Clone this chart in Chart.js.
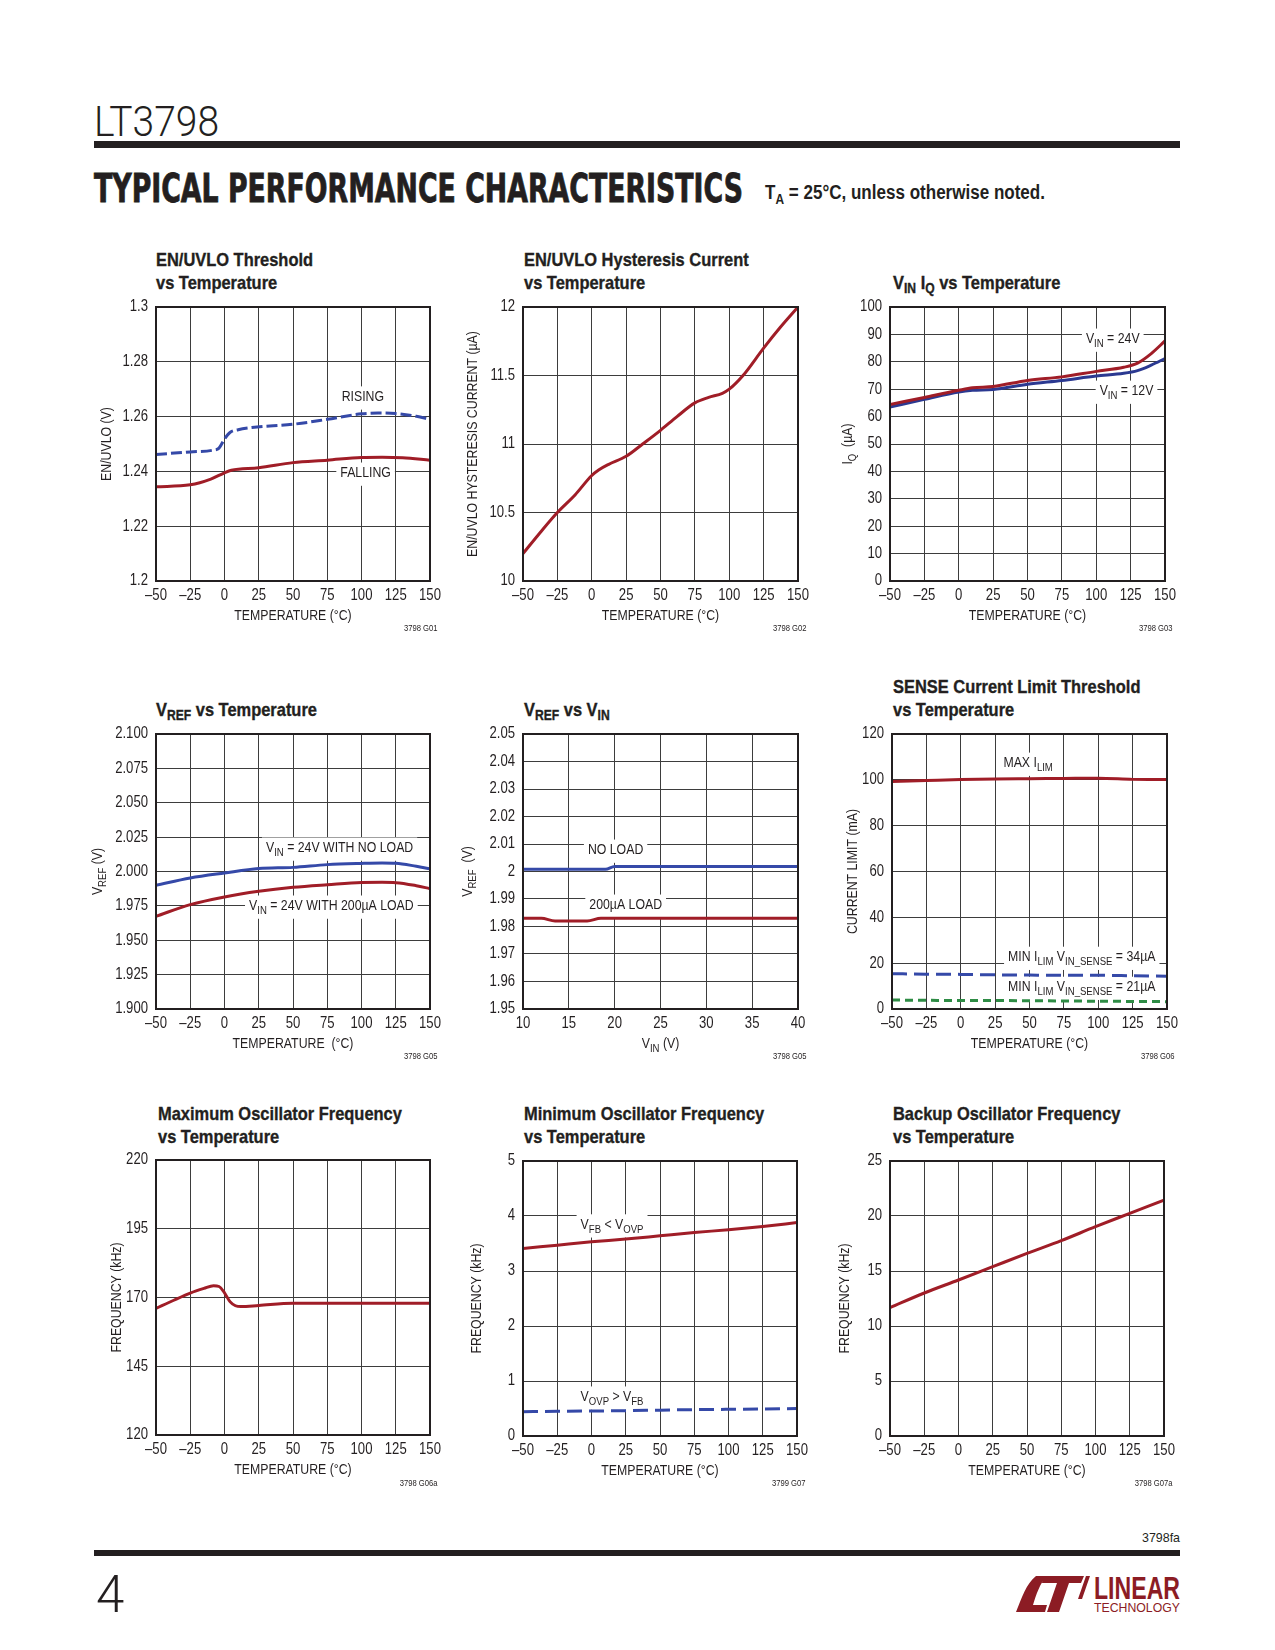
<!DOCTYPE html>
<html>
<head>
<meta charset="utf-8">
<script src="https://cdn.jsdelivr.net/npm/chart.js@4.4.1/dist/chart.umd.min.js"></script>
<style>
  body { margin: 0; background: #fff; }
  #page { position: relative; width: 1275px; height: 1650px; overflow: hidden;
          font-family: 'Liberation Sans', Arial, sans-serif; color: #231f20; }
  canvas { position: absolute; }
  .ttl { position: absolute; font-weight: bold; font-size: 19px; line-height: 23px; white-space: nowrap;
         transform: scaleX(0.865); transform-origin: 0 0; -webkit-text-stroke: 0.35px #231f20; }
  .ttl sub { font-size: 14px; vertical-align: -4px; line-height: 0; }
  .fn { position: absolute; font-size: 9px; line-height: 10px; white-space: nowrap;
        transform: scaleX(0.85); transform-origin: 100% 0; }
  svg { position: absolute; left: 0; }
</style>
</head>
<body>
<div id="page">
  <svg width="1275" height="220" style="top:0">
    <text x="94" y="136" font-family="Roboto, 'Liberation Sans', sans-serif" font-weight="300" font-size="42" fill="#231f20" textLength="125" lengthAdjust="spacingAndGlyphs">LT3798</text>
    <rect x="94" y="141" width="1086" height="7" fill="#231f20"/>
    <text x="94" y="202" font-family="'DejaVu Sans Condensed', 'Liberation Sans', sans-serif" font-weight="bold" font-size="39" fill="#231f20" stroke="#231f20" stroke-width="0.8" textLength="649" lengthAdjust="spacingAndGlyphs">TYPICAL PERFORMANCE CHARACTERISTICS</text>
    <text x="765" y="199" font-family="'Liberation Sans', sans-serif" font-weight="bold" font-size="20" fill="#231f20" textLength="280" lengthAdjust="spacingAndGlyphs">T<tspan font-size="14" dy="5">A</tspan><tspan dy="-5"> = 25°C, unless otherwise noted.</tspan></text>
  </svg>

  <div class="ttl" style="left:156px;top:248px">EN/UVLO Threshold<br>vs Temperature</div>
  <div class="ttl" style="left:524px;top:248px">EN/UVLO Hysteresis Current<br>vs Temperature</div>
  <div class="ttl" style="left:893px;top:271px">V<sub>IN</sub> I<sub>Q</sub> vs Temperature</div>
  <div class="ttl" style="left:156px;top:698px">V<sub>REF</sub> vs Temperature</div>
  <div class="ttl" style="left:524px;top:698px">V<sub>REF</sub> vs V<sub>IN</sub></div>
  <div class="ttl" style="left:893px;top:675px">SENSE Current Limit Threshold<br>vs Temperature</div>
  <div class="ttl" style="left:158px;top:1102px">Maximum Oscillator Frequency<br>vs Temperature</div>
  <div class="ttl" style="left:524px;top:1102px">Minimum Oscillator Frequency<br>vs Temperature</div>
  <div class="ttl" style="left:893px;top:1102px">Backup Oscillator Frequency<br>vs Temperature</div>

  <canvas id="g01"></canvas>
  <canvas id="g02"></canvas>
  <canvas id="g03"></canvas>
  <canvas id="g04"></canvas>
  <canvas id="g05"></canvas>
  <canvas id="g06"></canvas>
  <canvas id="g07"></canvas>
  <canvas id="g08"></canvas>
  <canvas id="g09"></canvas>

  <div class="fn" style="right:837px;top:623px">3798 G01</div>
  <div class="fn" style="right:468px;top:623px">3798 G02</div>
  <div class="fn" style="right:102px;top:623px">3798 G03</div>
  <div class="fn" style="right:837px;top:1051px">3798 G05</div>
  <div class="fn" style="right:468px;top:1051px">3798 G05</div>
  <div class="fn" style="right:100px;top:1051px">3798 G06</div>
  <div class="fn" style="right:837px;top:1478px">3798 G06a</div>
  <div class="fn" style="right:469px;top:1478px">3799 G07</div>
  <div class="fn" style="right:102px;top:1478px">3798 G07a</div>

  <svg width="1275" height="100" style="top:1525px">
    <text x="1180" y="17" text-anchor="end" font-family="'Liberation Sans', sans-serif" font-size="13" fill="#231f20" textLength="38" lengthAdjust="spacingAndGlyphs">3798fa</text>
    <rect x="94" y="25" width="1086" height="6" fill="#231f20"/>
    <text x="96" y="87" font-family="Roboto, sans-serif" font-weight="300" font-size="51" fill="#231f20">4</text>
    <g transform="translate(1016,50)" fill="#8c1c24">
      <path d="M0,37 C6,22 10,9 20,1 L31,1 C24,8 20,20 17,30 L31,30 L29,37 Z"/>
      <path d="M27,1 L68,1 L65,8 L53,8 L43,37 L31,37 L41,8 L26,8 Z"/>
      <path d="M70,1 L74,1 L66,24 L62,24 Z"/>
      <text x="78" y="24" font-family="'Liberation Sans', sans-serif" font-weight="bold" font-size="31" textLength="86" lengthAdjust="spacingAndGlyphs">LINEAR</text>
      <text x="78" y="37" font-family="'Liberation Sans', sans-serif" font-size="12" textLength="86" lengthAdjust="spacingAndGlyphs">TECHNOLOGY</text>
    </g>
  </svg>
</div>

<script>
// fonts and colours
const FONT = "'Liberation Sans', Arial, sans-serif";
const SQ = 0.82;   // squeeze to look like a condensed face
const INK = '#231f20';
const RED = '#a01d27';
const BLUE = '#3549a8';
const NAVY = '#2b3991';
const GREEN = '#2e8c45';

// shared tick labels
const tempTicks = [-50, -25, 0, 25, 50, 75, 100, 125, 150];
const tempTickLabels = ['–50', '–25', '0', '25', '50', '75', '100', '125', '150'];

// G01 EN/UVLO threshold
const g01Ticks = [1.2, 1.22, 1.24, 1.26, 1.28, 1.3];
const g01Labels = ['1.2', '1.22', '1.24', '1.26', '1.28', '1.3'];
const g01RisingT = [-50, -25, -8, -4, 0, 4, 10, 20, 50, 75, 100, 112, 125, 140, 150];
const g01Rising = [1.2462, 1.2471, 1.2478, 1.2485, 1.2518, 1.2542, 1.2552, 1.2560, 1.2572, 1.2590, 1.2610, 1.2613, 1.2611, 1.2601, 1.2590];
const g01FallingT = [-50, -25, -10, 0, 5, 25, 50, 75, 100, 115, 130, 150];
const g01Falling = [1.2344, 1.2351, 1.2372, 1.2395, 1.2404, 1.2413, 1.2432, 1.2441, 1.2451, 1.2452, 1.2450, 1.2441];

// G02 EN/UVLO hysteresis current
const g02Ticks = [10, 10.5, 11, 11.5, 12];
const g02Labels = ['10', '10.5', '11', '11.5', '12'];
const g02T = [-50, -37, -25, -12, 0, 5, 12, 25, 37, 50, 62, 75, 85, 95, 100, 110, 125, 137, 150];
const g02Current = [10.2, 10.36, 10.5, 10.63, 10.77, 10.81, 10.85, 10.91, 11.0, 11.1, 11.2, 11.3, 11.34, 11.37, 11.4, 11.5, 11.7, 11.85, 12.0];

// G03 VIN IQ
const g03Ticks = [0, 10, 20, 30, 40, 50, 60, 70, 80, 90, 100];
const g03Labels = ['0', '10', '20', '30', '40', '50', '60', '70', '80', '90', '100'];
const g03T = [-50, -25, 0, 10, 25, 50, 75, 100, 120, 130, 140, 150];
const g03Iq24 = [64.4, 67.0, 69.6, 70.5, 71.0, 73.2, 74.5, 76.5, 78.0, 79.5, 83.0, 87.6];
const g03Iq12 = [63.5, 66.3, 69.0, 69.6, 69.9, 71.8, 73.2, 74.8, 75.8, 76.8, 78.8, 81.2];

// G05 VREF vs temperature
const g04Ticks = [1.9, 1.925, 1.95, 1.975, 2.0, 2.025, 2.05, 2.075, 2.1];
const g04Labels = ['1.900', '1.925', '1.950', '1.975', '2.000', '2.025', '2.050', '2.075', '2.100'];
const g04T = [-50, -25, 0, 25, 50, 75, 100, 115, 125, 140, 150];
const g04NoLoad = [1.9900, 1.9953, 1.9989, 2.0021, 2.0030, 2.0050, 2.0059, 2.0062, 2.0060, 2.0038, 2.0020];
const g04Load = [1.9674, 1.9759, 1.9815, 1.9856, 1.9885, 1.9904, 1.9920, 1.9921, 1.9919, 1.9897, 1.9875];

// G05 VREF vs VIN
const vinTicks = [10, 15, 20, 25, 30, 35, 40];
const vinTickLabels = ['10', '15', '20', '25', '30', '35', '40'];
const g05Ticks = [1.95, 1.96, 1.97, 1.98, 1.99, 2.0, 2.01, 2.02, 2.03, 2.04, 2.05];
const g05Labels = ['1.95', '1.96', '1.97', '1.98', '1.99', '2', '2.01', '2.02', '2.03', '2.04', '2.05'];
const g05VinNoLoad = [10, 19, 20, 40];
const g05NoLoad = [2.0008, 2.0008, 2.0018, 2.0018];
const g05VinLoad = [10, 12, 13.5, 17, 18.5, 40];
const g05Load = [1.983, 1.983, 1.982, 1.982, 1.983, 1.983];

// G06 SENSE current limit
const g06Ticks = [0, 20, 40, 60, 80, 100, 120];
const g06Labels = ['0', '20', '40', '60', '80', '100', '120'];
const g06T = [-50, -25, 0, 25, 50, 75, 100, 125, 150];
const g06Max = [99.3, 99.7, 100.1, 100.4, 100.5, 100.6, 100.7, 100.2, 100.1];
const g06Min34 = [15.4, 15.2, 15.1, 14.9, 14.8, 14.7, 14.7, 14.5, 14.3];
const g06Min21 = [3.9, 3.8, 3.7, 3.7, 3.6, 3.5, 3.4, 3.3, 3.2];

// G06a max oscillator frequency
const g07Ticks = [120, 145, 170, 195, 220];
const g07Labels = ['120', '145', '170', '195', '220'];
const g07T = [-50, -37, -25, -15, -8, -4, 0, 4, 8, 12, 25, 50, 75, 100, 125, 150];
const g07Freq = [166.0, 169.0, 171.6, 173.3, 174.3, 174.0, 171.7, 168.5, 167.0, 166.7, 167.1, 167.9, 167.9, 167.9, 167.9, 167.9];

// G07 min oscillator frequency
const g08Ticks = [0, 1, 2, 3, 4, 5];
const g08Labels = ['0', '1', '2', '3', '4', '5'];
const g08T = [-50, -25, 0, 25, 50, 75, 100, 125, 150];
const g08FbLow = [3.41, 3.47, 3.53, 3.58, 3.64, 3.70, 3.75, 3.81, 3.88];
const g08OvpLow = [0.44, 0.45, 0.455, 0.46, 0.47, 0.48, 0.485, 0.49, 0.50];

// G07a backup oscillator frequency
const g09Ticks = [0, 5, 10, 15, 20, 25];
const g09Labels = ['0', '5', '10', '15', '20', '25'];
const g09T = [-50, -25, 0, 25, 50, 75, 100, 125, 150];
const g09Freq = [11.67, 13.0, 14.18, 15.39, 16.6, 17.76, 19.03, 20.24, 21.45];

function pts(xs, ys) {
  return xs.map((x, i) => ({ x: x, y: ys[i] }));
}

// text with _{sub} parts
function parseRich(s) {
  const segs = [];
  const re = /_\{([^}]*)\}/g;
  let last = 0, m;
  while ((m = re.exec(s))) {
    if (m.index > last) segs.push({ t: s.slice(last, m.index), sub: false });
    segs.push({ t: m[1], sub: true });
    last = re.lastIndex;
  }
  if (last < s.length) segs.push({ t: s.slice(last), sub: false });
  return segs;
}

// draws squeezed text; align is 'center' | 'right' | 'left'
function drawRich(ctx, s, x, y, size, align, bg) {
  const segs = parseRich(String(s));
  let w = 0;
  segs.forEach(g => {
    ctx.font = (g.sub ? size * 0.78 : size) + 'px ' + FONT;
    g.w = ctx.measureText(g.t).width;
    w += g.w;
  });
  const sw = w * SQ;
  const sx = align === 'center' ? x - sw / 2 : align === 'right' ? x - sw : x;
  if (bg) {
    ctx.fillStyle = '#fff';
    ctx.fillRect(sx - 4, y - size * 0.7, sw + 8, size * 1.55);
  }
  ctx.save();
  ctx.translate(sx, y);
  ctx.scale(SQ, 1);
  ctx.fillStyle = INK;
  ctx.textBaseline = 'middle';
  ctx.textAlign = 'left';
  let cx = 0;
  segs.forEach(g => {
    ctx.font = (g.sub ? size * 0.78 : size) + 'px ' + FONT;
    ctx.fillText(g.t, cx, g.sub ? size * 0.3 : 0);
    cx += g.w;
  });
  ctx.restore();
}

// labels, frame, tick labels and axis titles
const tpc = {
  id: 'tpc',
  beforeDatasetsDraw(chart, args, o) {
    const ctx = chart.ctx, xs = chart.scales.x, ys = chart.scales.y;
    ctx.save();
    (o.notes || []).forEach(n => drawRich(ctx, n.text, xs.getPixelForValue(n.x), ys.getPixelForValue(n.y), 15, 'center', true));
    ctx.restore();
  },
  afterDraw(chart, args, o) {
    const ctx = chart.ctx, a = chart.chartArea, xs = chart.scales.x, ys = chart.scales.y;
    ctx.save();
    ctx.strokeStyle = INK;
    ctx.lineWidth = 2;
    ctx.strokeRect(a.left, a.top, a.right - a.left, a.bottom - a.top);
    xs.ticks.forEach(t => drawRich(ctx, t.label, xs.getPixelForValue(t.value), a.bottom + 15, 16, 'center', false));
    ys.ticks.forEach(t => drawRich(ctx, t.label, a.left - 8, ys.getPixelForValue(t.value), 16, 'right', false));
    drawRich(ctx, o.xTitle, (a.left + a.right) / 2, a.bottom + 35, 15, 'center', false);
    ctx.translate(a.left - o.yOff, (a.top + a.bottom) / 2);
    ctx.rotate(-Math.PI / 2);
    drawRich(ctx, o.yTitle, 0, 0, 15, 'center', false);
    ctx.restore();
  }
};

function axis(ticks, labels, size, horiz) {
  return {
    type: 'linear',
    min: ticks[0],
    max: ticks[ticks.length - 1],
    afterBuildTicks: s => { s.ticks = ticks.map(v => ({ value: v })); },
    afterFit: s => { if (horiz) s.height = size; else s.width = size; },
    ticks: {
      callback: (v, i) => labels[i],
      color: 'rgba(0,0,0,0)',   // drawn squeezed by the tpc plugin
      maxRotation: 0,
      autoSkip: false
    },
    grid: { color: '#3d3d3d', lineWidth: 1, drawTicks: false },
    border: { display: false }
  };
}

function plot(id, box, xAxis, yAxis, sets, deco) {
  const padL = 80, padT = 20, padR = 30, padB = 70;
  const cv = document.getElementById(id);
  cv.width = box[2] + padL + padR;
  cv.height = box[3] + padT + padB;
  cv.style.left = (box[0] - padL) + 'px';
  cv.style.top = (box[1] - padT) + 'px';
  new Chart(cv, {
    type: 'line',
    data: {
      datasets: sets.map(s => ({
        data: s.data,
        borderColor: s.color,
        borderWidth: 3,
        borderDash: s.dash || [],
        pointRadius: 0,
        cubicInterpolationMode: 'monotone',
        fill: false
      }))
    },
    options: {
      responsive: false,
      animation: false,
      events: [],
      layout: { padding: { top: padT, right: padR, left: 0, bottom: 0 } },
      plugins: { legend: { display: false }, tooltip: { enabled: false }, tpc: deco },
      scales: {
        x: axis(xAxis[0], xAxis[1], padB, true),
        y: axis(yAxis[0], yAxis[1], padL, false)
      }
    },
    plugins: [tpc]
  });
}

const TEMP = 'TEMPERATURE (°C)';

plot('g01', [156, 307, 274, 274], [tempTicks, tempTickLabels], [g01Ticks, g01Labels], [
  { data: pts(g01RisingT, g01Rising), color: BLUE, dash: [11, 4] },
  { data: pts(g01FallingT, g01Falling), color: RED }
], { xTitle: TEMP, yTitle: 'EN/UVLO (V)', yOff: 49, notes: [
  { text: 'RISING', x: 101, y: 1.2672 },
  { text: 'FALLING', x: 103, y: 1.2394 }
] });

plot('g02', [523, 307, 275, 274], [tempTicks, tempTickLabels], [g02Ticks, g02Labels], [
  { data: pts(g02T, g02Current), color: RED }
], { xTitle: TEMP, yTitle: 'EN/UVLO HYSTERESIS CURRENT (µA)', yOff: 50, notes: [] });

plot('g03', [890, 307, 275, 274], [tempTicks, tempTickLabels], [g03Ticks, g03Labels], [
  { data: pts(g03T, g03Iq24), color: RED },
  { data: pts(g03T, g03Iq12), color: NAVY }
], { xTitle: TEMP, yTitle: 'I_{Q}  (µA)', yOff: 42, notes: [
  { text: 'V_{IN} = 24V', x: 112, y: 88.3 },
  { text: 'V_{IN} = 12V', x: 122, y: 69.3 }
] });

plot('g04', [156, 734, 274, 275], [tempTicks, tempTickLabels], [g04Ticks, g04Labels], [
  { data: pts(g04T, g04NoLoad), color: BLUE },
  { data: pts(g04T, g04Load), color: RED }
], { xTitle: 'TEMPERATURE  (°C)', yTitle: 'V_{REF} (V)', yOff: 58, notes: [
  { text: 'V_{IN} = 24V WITH NO LOAD', x: 84, y: 2.0171 },
  { text: 'V_{IN} = 24V WITH 200µA LOAD', x: 78, y: 1.9749 }
] });

plot('g05', [523, 734, 275, 275], [vinTicks, vinTickLabels], [g05Ticks, g05Labels], [
  { data: pts(g05VinNoLoad, g05NoLoad), color: BLUE },
  { data: pts(g05VinLoad, g05Load), color: RED }
], { xTitle: 'V_{IN} (V)', yTitle: 'V_{REF}  (V)', yOff: 55, notes: [
  { text: 'NO LOAD', x: 20.1, y: 2.0078 },
  { text: '200µA LOAD', x: 21.2, y: 1.9878 }
] });

plot('g06', [892, 734, 275, 275], [tempTicks, tempTickLabels], [g06Ticks, g06Labels], [
  { data: pts(g06T, g06Max), color: RED },
  { data: pts(g06T, g06Min34), color: BLUE, dash: [15, 7] },
  { data: pts(g06T, g06Min21), color: GREEN, dash: [8, 5] }
], { xTitle: TEMP, yTitle: 'CURRENT LIMIT (mA)', yOff: 39, notes: [
  { text: 'MAX I_{LIM}', x: 49, y: 107.3 },
  { text: 'MIN I_{LIM} V_{IN_SENSE} = 34µA', x: 88, y: 22.6 },
  { text: 'MIN I_{LIM} V_{IN_SENSE} = 21µA', x: 88, y: 9.5 }
] });

plot('g07', [156, 1160, 274, 275], [tempTicks, tempTickLabels], [g07Ticks, g07Labels], [
  { data: pts(g07T, g07Freq), color: RED }
], { xTitle: TEMP, yTitle: 'FREQUENCY (kHz)', yOff: 39, notes: [] });

plot('g08', [523, 1161, 274, 275], [tempTicks, tempTickLabels], [g08Ticks, g08Labels], [
  { data: pts(g08T, g08FbLow), color: RED },
  { data: pts(g08T, g08OvpLow), color: BLUE, dash: [15, 7] }
], { xTitle: TEMP, yTitle: 'FREQUENCY (kHz)', yOff: 46, notes: [
  { text: 'V_{FB} < V_{OVP}', x: 15, y: 3.84 },
  { text: 'V_{OVP} > V_{FB}', x: 15, y: 0.71 }
] });

plot('g09', [890, 1161, 274, 275], [tempTicks, tempTickLabels], [g09Ticks, g09Labels], [
  { data: pts(g09T, g09Freq), color: RED }
], { xTitle: TEMP, yTitle: 'FREQUENCY (kHz)', yOff: 45, notes: [] });
</script>
</body>
</html>
